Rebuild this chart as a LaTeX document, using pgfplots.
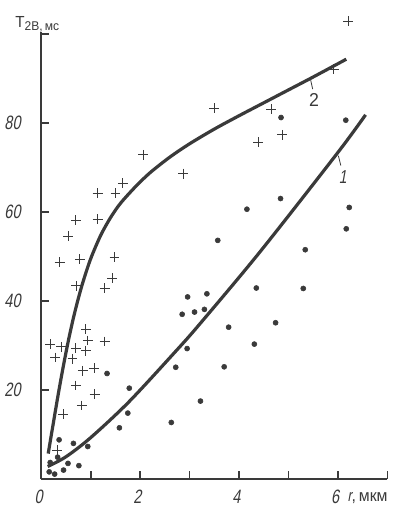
\documentclass[border=0pt]{standalone}
\usepackage{pgfplots}
\pgfplotsset{compat=1.18}
\usepackage{fontspec}
\setmainfont{Liberation Sans}
\newfontfamily\tickfont[FakeStretch=0.75,FakeSlant=0.18]{Liberation Sans}
\newfontfamily\labfont[FakeStretch=0.95]{Liberation Sans}
\definecolor{ink}{HTML}{3A3A3A}
\begin{document}
\begin{tikzpicture}
\begin{axis}[
  scale only axis,
  width=259.4pt, height=335.4pt,
  xmin=0, xmax=7, ymin=0, ymax=100.5,
  axis lines=left,
  axis line style={-, line width=1.6pt, ink},
  tick align=inside,
  major tick length=6pt,
  tick style={line width=1.2pt, ink},
  xtick={0,1,2,3,4,5,6,7},
  xticklabels={0,,2,,4,,6,},
  ytick={20,40,60,80,100},
  yticklabels={20,40,60,80,},
  /pgf/number format/assume math mode=true,
  ticklabel style={font=\tickfont\fontsize{14.5}{15}\selectfont, text=ink},
  xticklabel style={yshift=-4.5pt, xshift=-2pt},
  yticklabel style={xshift=-12pt},
  clip=false,
]
% crosses (+)
\addplot[only marks, mark=+, mark size=3.7pt, mark options={line width=0.65pt, ink}] coordinates {
 (6.21,102.8) (5.92,92.1) (3.50,83.3) (4.65,83.1) (4.87,77.3) (4.39,75.7)
 (2.06,72.8) (2.87,68.6) (1.65,66.5) (1.50,64.2) (1.14,64.2) (0.70,58.1)
 (1.14,58.4) (0.54,54.6) (0.37,48.7) (0.78,49.4) (1.48,49.8) (1.43,45.1)
 (1.28,42.9) (0.71,43.4)
 (0.90,33.7) (0.94,31.1) (1.28,30.9) (0.18,30.3) (0.40,29.7) (0.70,29.4)
 (0.90,28.8) (0.28,27.3) (0.63,27.0) (0.84,24.3) (1.07,24.9) (0.70,21.0)
 (1.08,19.1) (0.82,16.5) (0.44,14.6) (0.32,6.5)
};
% dots
\addplot[only marks, mark=*, mark size=1.9pt, mark options={ink, fill=ink}] coordinates {
 (0.16,1.6) (0.27,1.1) (0.45,2.0) (0.76,3.0) (0.54,3.5) (0.18,3.7) (0.33,4.9)
 (0.94,7.3) (0.65,8.0) (0.36,8.8) (1.58,11.5) (1.75,14.8) (1.78,20.4) (1.33,23.7)
 (2.63,12.7) (2.72,25.1) (2.95,29.3) (2.85,37.0) (3.10,37.5) (3.30,38.1)
 (2.96,40.9) (3.35,41.6) (3.22,17.5) (3.70,25.2) (3.79,34.1) (4.31,30.3)
 (4.35,42.9) (4.74,35.1) (5.30,42.8) (5.34,51.5) (3.57,53.6) (4.16,60.6)
 (4.84,63.0) (6.17,56.2) (6.23,61.0) (4.85,81.2) (6.16,80.6)
};
% curve 2
\addplot[smooth, tension=0.5, line width=2.4pt, ink] coordinates {
 (0.14,5.7) (0.25,13.0) (0.35,19.5) (0.45,25.6) (0.55,31.2) (0.65,36.2)
 (0.75,40.6) (0.85,44.5) (1.0,49.5) (1.2,54.7) (1.4,58.7) (1.6,61.9)
 (1.9,65.6) (2.2,68.8) (2.6,72.3) (3.0,75.3) (3.5,78.6) (4.0,81.6)
 (4.5,84.5) (5.0,87.4) (5.5,90.3) (6.17,94.3)
};
% curve 1
\addplot[smooth, tension=0.5, line width=2.4pt, ink] coordinates {
 (0.13,2.8) (0.5,5.0) (1.0,9.3) (1.77,17.3) (2.72,28.7) (3.22,35.0)
 (4.43,51.1) (5.99,73.2) (6.56,81.8)
};
% curve labels
\draw[line width=0.6pt, ink] (axis cs:5.45,89.6) -- (axis cs:5.49,87.6);
\node[font=\labfont\fontsize{14}{15}\selectfont, text=ink] at (axis cs:5.52,85.2) {2};
\draw[line width=0.6pt, ink] (axis cs:6.01,72.6) -- (axis cs:6.06,70.4);
\node[font=\tickfont\fontsize{14}{15}\selectfont, text=ink] at (axis cs:6.10,67.8) {1};
% axis labels
\node[anchor=base west, inner sep=0pt, text=ink, font=\labfont\fontsize{12}{13}\selectfont] at (axis cs:-0.53,101.5) {T\raisebox{-2.5pt}{\fontsize{9.5}{10}\selectfont 2B,\,мс}};
\node[anchor=base west, inner sep=0pt, text=ink, font=\labfont\fontsize{12.5}{14}\selectfont] at (axis cs:6.19,-4.95) {{\tickfont r},\,мкм};
% bounding box matching reference margins
\path (axis cs:-0.83,-7.19) rectangle (axis cs:7.23,107.6);
\end{axis}
\end{tikzpicture}
\end{document}
